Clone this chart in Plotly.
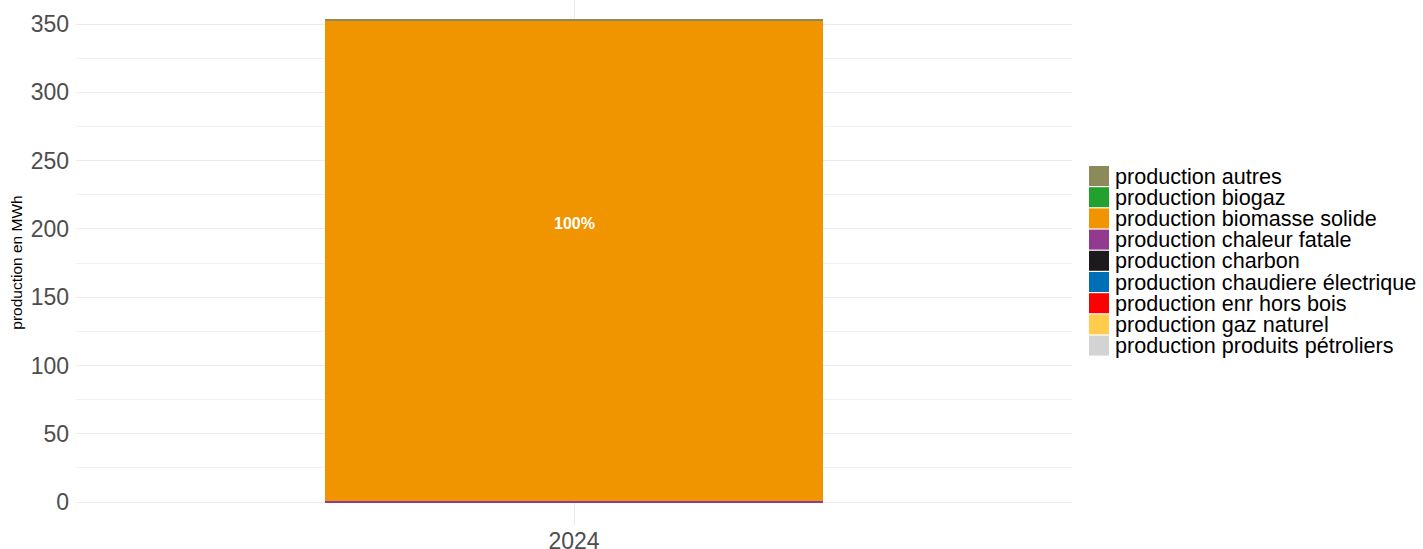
import plotly.graph_objects as go

# ---- data ----
years = ["2024"]
series = [
    "production autres",
    "production biogaz",
    "production biomasse solide",
    "production chaleur fatale",
    "production charbon",
    "production chaudiere électrique",
    "production enr hors bois",
    "production gaz naturel",
    "production produits pétroliers",
]
values = {
    "production autres": [0.7],
    "production biogaz": [0.0],
    "production biomasse solide": [352.0],
    "production chaleur fatale": [0.6],
    "production charbon": [0.0],
    "production chaudiere électrique": [0.0],
    "production enr hors bois": [0.0],
    "production gaz naturel": [0.0],
    "production produits pétroliers": [0.0],
}
colors = {
    "production autres": "#8c8a5a",
    "production biogaz": "#22a12e",
    "production biomasse solide": "#f09400",
    "production chaleur fatale": "#913a8e",
    "production charbon": "#1c1a1c",
    "production chaudiere électrique": "#0070b6",
    "production enr hors bois": "#ff0000",
    "production gaz naturel": "#ffcc4c",
    "production produits pétroliers": "#d3d3d3",
}
label_text = "100%"
label_y = 204
y_title = "production en MWh"

FONT = "Liberation Sans, Arial, Helvetica, sans-serif"

fig = go.Figure()
# stack bottom -> top: last series first
for name in reversed(series):
    fig.add_trace(go.Bar(
        x=years, y=values[name], name=name,
        marker=dict(color=colors[name], line=dict(width=0)),
        width=0.5, showlegend=False,
    ))

fig.add_annotation(x=years.index(years[0]), y=label_y, text="<b>" + label_text + "</b>",
                   showarrow=False, font=dict(color="white", size=16, family=FONT))

# ---- custom legend (layout geometry in pixels converted to paper) ----
W, H = 1423, 549
ml, mr, mt, mb = 76, 351, 0, 24
pw, ph = W - ml - mr, H - mt - mb

def px_x(p):
    return (p - ml) / pw

def px_y(p):
    return 1 - (p - mt) / ph

row0, pitch, sq = 166, 21.2, 20
for i, name in enumerate(series):
    top = row0 + pitch * i
    fig.add_shape(type="rect", xref="paper", yref="paper",
                  x0=px_x(1089), x1=px_x(1109), y0=px_y(top + sq), y1=px_y(top),
                  fillcolor=colors[name], line=dict(width=0))
    fig.add_annotation(xref="paper", yref="paper", x=px_x(1113), y=px_y(top + sq / 2),
                       xanchor="left", yanchor="middle", showarrow=False, text=name,
                       font=dict(size=21.6, color="#000000", family=FONT))

fig.update_layout(
    width=W, height=H,
    barmode="stack",
    plot_bgcolor="white", paper_bgcolor="white",
    margin=dict(l=ml, r=mr, t=mt, b=mb, pad=0, autoexpand=False),
    showlegend=False,
    font=dict(family=FONT),
)
fig.update_xaxes(
    type="category", range=[-0.5, 0.5], showgrid=True, gridcolor="#ebebeb", gridwidth=1,
    ticks="", tickfont=dict(size=23, color="#4d4d4d"), zeroline=False,
    showline=False, ticklabelstandoff=0, automargin=False,
)
fig.update_yaxes(
    range=[-16.8, 367.6], tickvals=[0, 50, 100, 150, 200, 250, 300, 350],
    showgrid=True, gridcolor="#ebebeb", gridwidth=1,
    minor=dict(tickvals=[25, 75, 125, 175, 225, 275, 325], showgrid=True,
               gridcolor="#f2f2f2", gridwidth=1),
    ticks="", tickfont=dict(size=23, color="#4d4d4d"), zeroline=False,
    showline=False, ticklabelstandoff=6, automargin=False,
    title=dict(text=y_title, font=dict(size=15.5, color="#000000"), standoff=4),
)

fig.write_html("out.html", config={"displayModeBar": False},
               post_script="document.body.style.margin='0';")
